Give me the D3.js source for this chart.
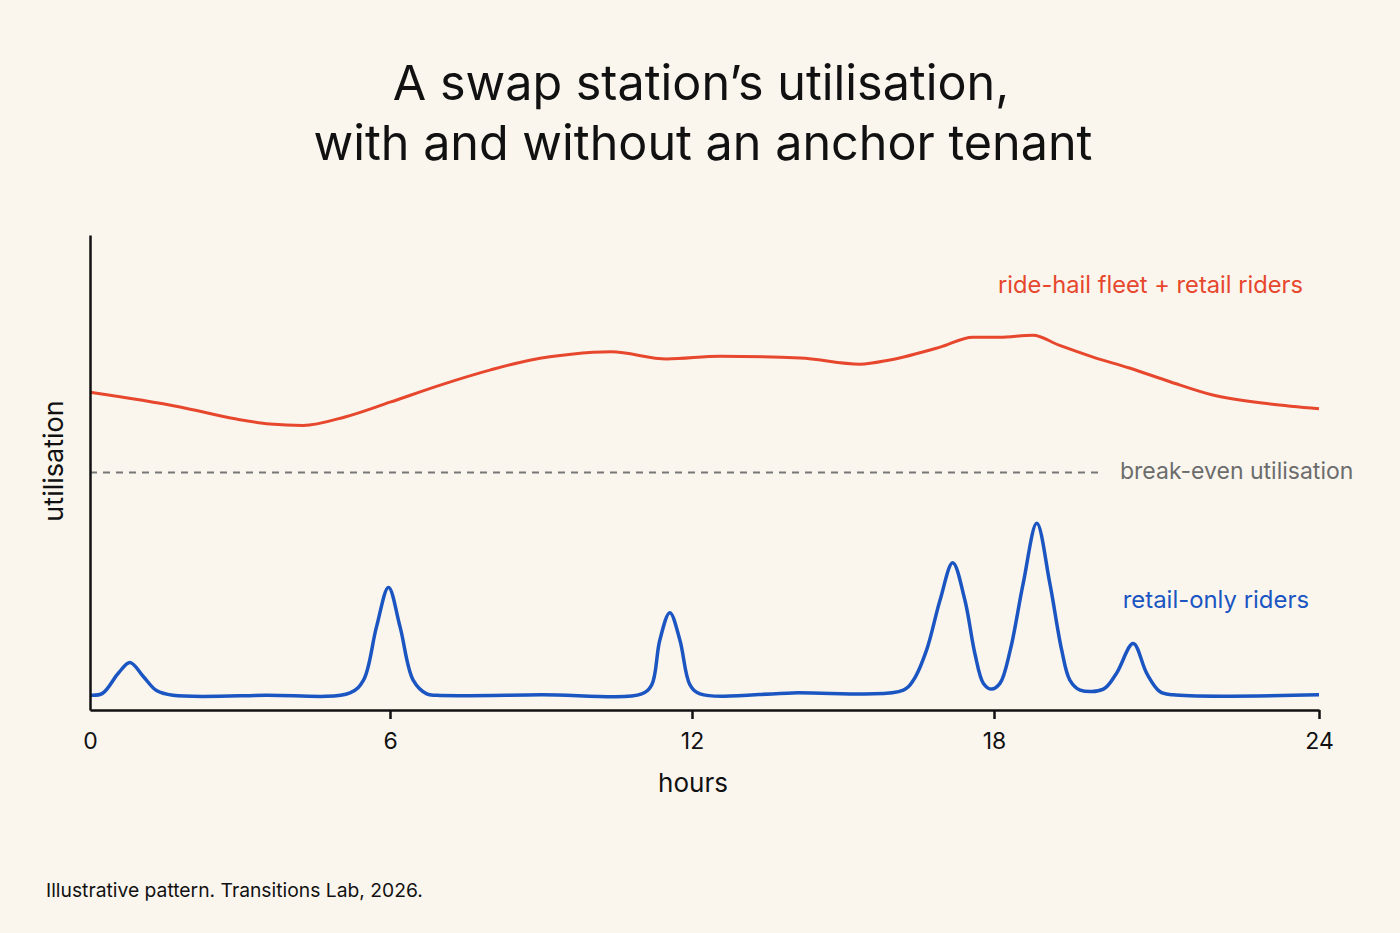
<!doctype html>
<html>
<head>
<meta charset="utf-8">
<title>Swap station utilisation</title>
<script src="https://cdn.jsdelivr.net/npm/d3@7"></script>
<style>
  html, body { margin: 0; padding: 0; background: #faf6ee; }
  svg { display: block; font-family: "Inter", "Open Sans", sans-serif; }
</style>
</head>
<body>
<svg id="chart" width="1400" height="933"></svg>
<script>
  // hours of the day, ticks
  const hourTicks = [0, 6, 12, 18, 24];

  // ride-hail fleet + retail riders (utilisation, arbitrary 0-100 scale)
  const fleetHours = [0, 1.8, 2.9, 3.6, 4.26, 5.1, 6.0, 7.0, 8.0, 8.8, 9.6, 10.4, 11.5, 12.56,
                      14.15, 15.34, 15.93, 16.93, 17.58, 18.1, 18.72, 19.2, 19.83, 20.5, 21.25, 22.04, 23.1, 24];
  const fleetUtil  = [66.9, 63.8, 61.3, 60.2, 59.9, 61.7, 64.8, 68.4, 71.6, 73.7, 74.9, 75.4, 73.9, 74.5,
                      74.1, 72.8, 73.7, 76.4, 78.5, 78.5, 78.9, 76.8, 74.3, 72.0, 69.1, 66.3, 64.4, 63.4];

  // retail-only riders
  const retailHours = [0, 0.25, 0.57, 0.8, 1.07, 1.33, 1.66, 3.5, 5.2, 5.47, 5.73, 5.97, 6.2, 6.46, 6.73, 6.93,
                       9.0, 11.0, 11.2, 11.36, 11.56, 11.76, 11.96, 12.16, 14.0, 16.2, 16.4, 16.66, 16.93, 17.18,
                       17.42, 17.62, 17.79, 17.95, 18.11, 18.3, 18.54, 18.79, 19.03, 19.25, 19.4, 19.59, 20.02,
                       20.26, 20.57, 20.82, 21.06, 21.3, 24];
  const retailUtil  = [3.1, 3.5, 7.8, 10.0, 7.0, 4.1, 3.1, 3.1, 3.6, 6.3, 17.5, 25.8, 17.5, 6.3, 3.4, 3.1,
                       3.2, 3.4, 5.3, 14.7, 20.5, 14.7, 5.3, 3.4, 3.6, 4.2, 6.3, 12.6, 23.2, 31.0,
                       23.2, 11.9, 5.6, 4.4, 5.6, 12.6, 26.7, 39.3, 26.7, 12.6, 6.3, 4.2, 4.4,
                       7.7, 14.0, 7.7, 3.9, 3.2, 3.2];

  const breakEven = 50;

  const svg = d3.select("#chart");

  // the axis in the picture is not evenly spaced, so map each tick
  const x = d3.scaleLinear().domain(hourTicks).range([90, 390, 692, 994, 1319]);
  const y = d3.scaleLinear().domain([0, 100]).range([710, 235]);

  // title
  const title = svg.append("text")
    .attr("text-anchor", "middle")
    .attr("font-size", 48.5)
    .attr("fill", "#111");
  title.append("tspan").attr("x", 701).attr("y", 100).text("A swap station\u2019s utilisation,");
  title.append("tspan").attr("x", 703).attr("y", 160).text("with and without an anchor tenant");

  // break-even line
  svg.append("line")
    .attr("x1", x(0)).attr("x2", 1100)
    .attr("y1", y(breakEven)).attr("y2", y(breakEven))
    .attr("stroke", "#777")
    .attr("stroke-width", 2)
    .attr("stroke-dasharray", "7,6");

  svg.append("text")
    .attr("x", 1120).attr("y", y(breakEven) + 6)
    .attr("font-size", 23)
    .attr("fill", "#6c6c6c")
    .text("break-even utilisation");

  const fleetLine = d3.line()
    .x(d => x(d[0]))
    .y(d => y(d[1]))
    .curve(d3.curveMonotoneX);

  const retailLine = d3.line()
    .x(d => x(d[0]))
    .y(d => y(d[1]))
    .curve(d3.curveCatmullRom.alpha(0.5));

  svg.append("path")
    .datum(d3.zip(fleetHours, fleetUtil))
    .attr("d", fleetLine)
    .attr("fill", "none")
    .attr("stroke", "#e6472d")
    .attr("stroke-width", 3);

  svg.append("path")
    .datum(d3.zip(retailHours, retailUtil))
    .attr("d", retailLine)
    .attr("fill", "none")
    .attr("stroke", "#1a55c2")
    .attr("stroke-width", 3.5)
    .attr("stroke-linejoin", "round");

  // series labels
  svg.append("text")
    .attr("x", 1303).attr("y", 293)
    .attr("text-anchor", "end")
    .attr("font-size", 23.7)
    .attr("fill", "#e6472d")
    .text("ride-hail fleet + retail riders");

  svg.append("text")
    .attr("x", 1309).attr("y", 608)
    .attr("text-anchor", "end")
    .attr("font-size", 23.9)
    .attr("fill", "#1a55c2")
    .text("retail-only riders");

  // axes
  const xAxis = svg.append("g")
    .attr("transform", `translate(0,${y(0)})`)
    .call(d3.axisBottom(x).tickValues(hourTicks).tickSize(9).tickSizeOuter(0).tickPadding(14));
  xAxis.select(".domain").attr("stroke", "#111").attr("stroke-width", 2.5);
  xAxis.selectAll(".tick line").attr("stroke", "#111").attr("stroke-width", 2.5)
    .filter(d => d === 0).remove();
  xAxis.selectAll(".tick text")
    .attr("font-size", 23)
    .attr("font-family", "Inter, 'Open Sans', sans-serif")
    .attr("fill", "#111");

  const yAxis = svg.append("g")
    .attr("transform", `translate(${x(0)},0)`)
    .call(d3.axisLeft(y).ticks(0).tickSizeOuter(0));
  yAxis.select(".domain").attr("stroke", "#111").attr("stroke-width", 2.5);

  svg.append("text")
    .attr("x", 693).attr("y", 792)
    .attr("text-anchor", "middle")
    .attr("font-size", 26)
    .attr("fill", "#111")
    .text("hours");

  svg.append("text")
    .attr("transform", "translate(63,461) rotate(-90)")
    .attr("text-anchor", "middle")
    .attr("font-size", 27)
    .attr("fill", "#111")
    .text("utilisation");

  // footnote
  svg.append("text")
    .attr("x", 46).attr("y", 897)
    .attr("font-size", 19.3)
    .attr("fill", "#111")
    .text("Illustrative pattern. Transitions Lab, 2026.");
</script>
</body>
</html>
